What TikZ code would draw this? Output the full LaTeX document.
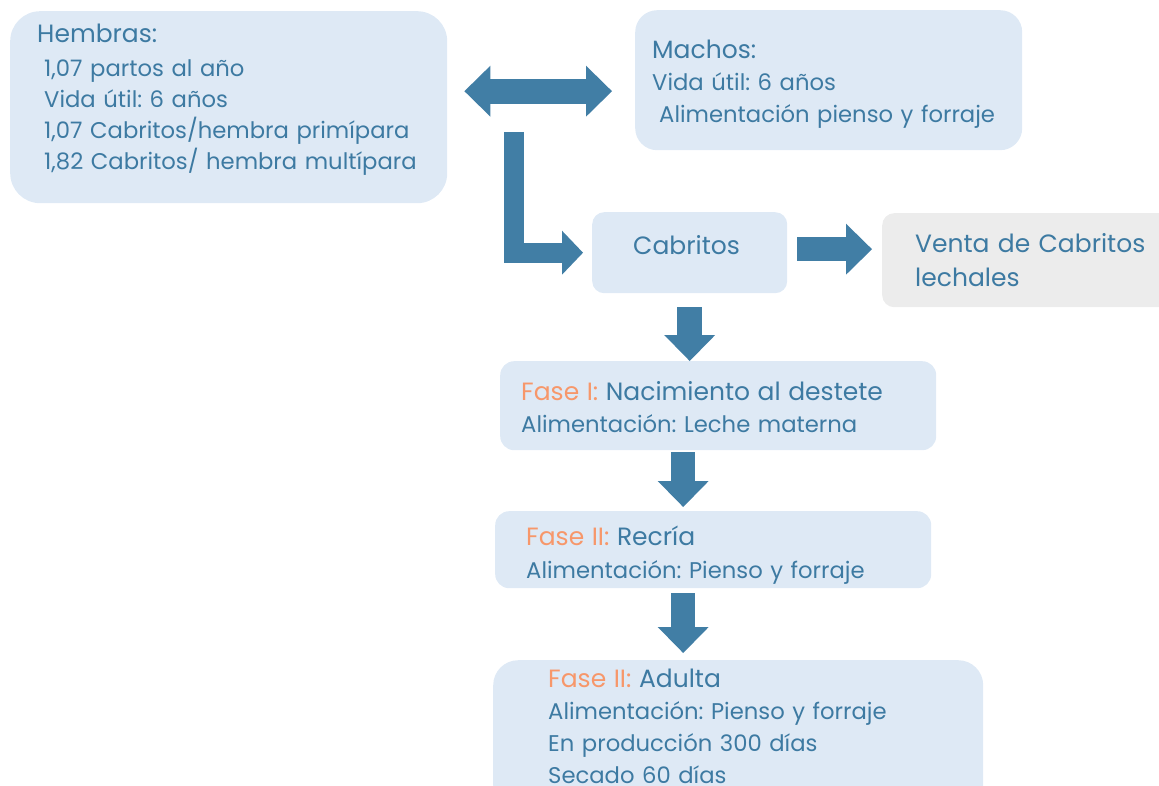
\documentclass[tikz,border=0pt]{standalone}
\usepackage{fontspec}
\setmainfont{Poppins}
\usetikzlibrary{arrows.meta}

\definecolor{boxblue}{HTML}{DEE9F5}
\definecolor{boxgray}{HTML}{ECECEC}
\definecolor{arrowblue}{HTML}{417EA5}
\definecolor{textblue}{HTML}{3D7AA2}
\definecolor{faseorange}{HTML}{F7976A}

\newcommand{\titlesize}{\fontsize{25}{34}\selectfont}
\newcommand{\bodysize}{\fontsize{22.7}{32}\selectfont}
\newcommand{\fase}[1]{\textcolor{faseorange}{#1}}
\frenchspacing

\tikzset{
  box/.style={rectangle, fill=boxblue, anchor=north west, inner sep=0pt, rounded corners=#1},
  box/.default=14pt,
  txt/.style={anchor=base west, inner sep=0pt, text=textblue, align=left, text width=480pt, font=\bodysize},
  >={Triangle[width=51pt,length=26pt,line width=0pt]},
  fat/.style={draw=arrowblue, line width=24pt, ->},
}

\begin{document}
\begin{tikzpicture}[x=1pt,y=-1pt]
        \clip (0,0) rectangle (1159,786);

        % boxes
        \node (hembras) [box=30pt, minimum width=437, minimum height=192] at (10,11) {};
        \node (machos) [box=22pt, minimum width=387, minimum height=140] at (635,10) {};
        \node (cabritos) [box=12pt, minimum width=195, minimum height=81] at (592,212) {};
        \node (venta) [box=12pt, fill=boxgray, minimum width=290, minimum height=94] at (882,213) {};
        \node (faseuno) [box, minimum width=436, minimum height=89] at (500,361) {};
        \node (fasedos) [box, minimum width=436, minimum height=77] at (495,511) {};
        \node (adulta) [box=25pt, minimum width=490, minimum height=150] at (493,660) {};

        % texts
        \node (hembrastxt) [txt, font=\fontsize{22.7}{31}\selectfont] at (37,43) {{\titlesize Hembras:}\\[3pt]
          \hspace*{7pt}1,07 partos al año\\
          \hspace*{7pt}Vida útil: 6 años\\
          \hspace*{7pt}1,07 Cabritos/hembra primípara\\
          \hspace*{7pt}1,82 Cabritos/ hembra multípara};
        \node (machostxt) [txt] at (652,59) {{\titlesize Machos:}\\
          Vida útil: 6 años\\
          \hspace*{7pt}Alimentación pienso y forraje};
        \node (cabritostxt) [txt] at (633,255) {\titlesize Cabritos};
        \node (ventatxt) [txt, font=\titlesize] at (915,253) {Venta de Cabritos\\lechales};
        \node (faseunotxt) [txt] at (521,400) {{\titlesize\fase{Fase I:} Nacimiento al destete}\\
          Alimentación: Leche materna};
        \node (fasedostxt) [txt] at (526,545) {{\titlesize\fase{Fase II:} Recría}\\[1pt]
          Alimentación: Pienso y forraje};
        \node (adultatxt) [txt] at (548,687) {{\titlesize\fase{Fase II:} Adulta}\\
          Alimentación: Pienso y forraje\\
          En producción 300 días\\
          Secado 60 días};

        % arrows
        \coordinate (lstart) at (513.5,132);
        \draw[fat, line width=25pt, <->, shorten <=17pt, shorten >=23pt]
          ([yshift=16pt]hembras.east) -- ([yshift=16pt]hembras.east -| machos.west);
        \draw[fat, line width=20pt, line join=miter, -{Triangle[width=44pt,length=21pt,line width=0pt]}, shorten >=9pt]
          (lstart) |- (cabritos.west);
        \draw[fat, shorten <=10pt, shorten >=10pt]
          ([yshift=3.5pt]cabritos.east) -- ([yshift=3.5pt]cabritos.east -| venta.west);
        \draw[fat, line width=25pt, shorten <=14pt]
          (cabritos.south) -- (cabritos.south |- faseuno.north);
        \draw[fat, shorten <=2pt, shorten >=4pt]
          ([xshift=-35pt]faseuno.south) -- ([xshift=-35pt]faseuno.south |- fasedos.north);
        \draw[fat, shorten <=5pt, shorten >=7pt]
          ([xshift=-30pt]fasedos.south) -- ([xshift=-30pt]fasedos.south |- adulta.north);
\end{tikzpicture}
\end{document}
